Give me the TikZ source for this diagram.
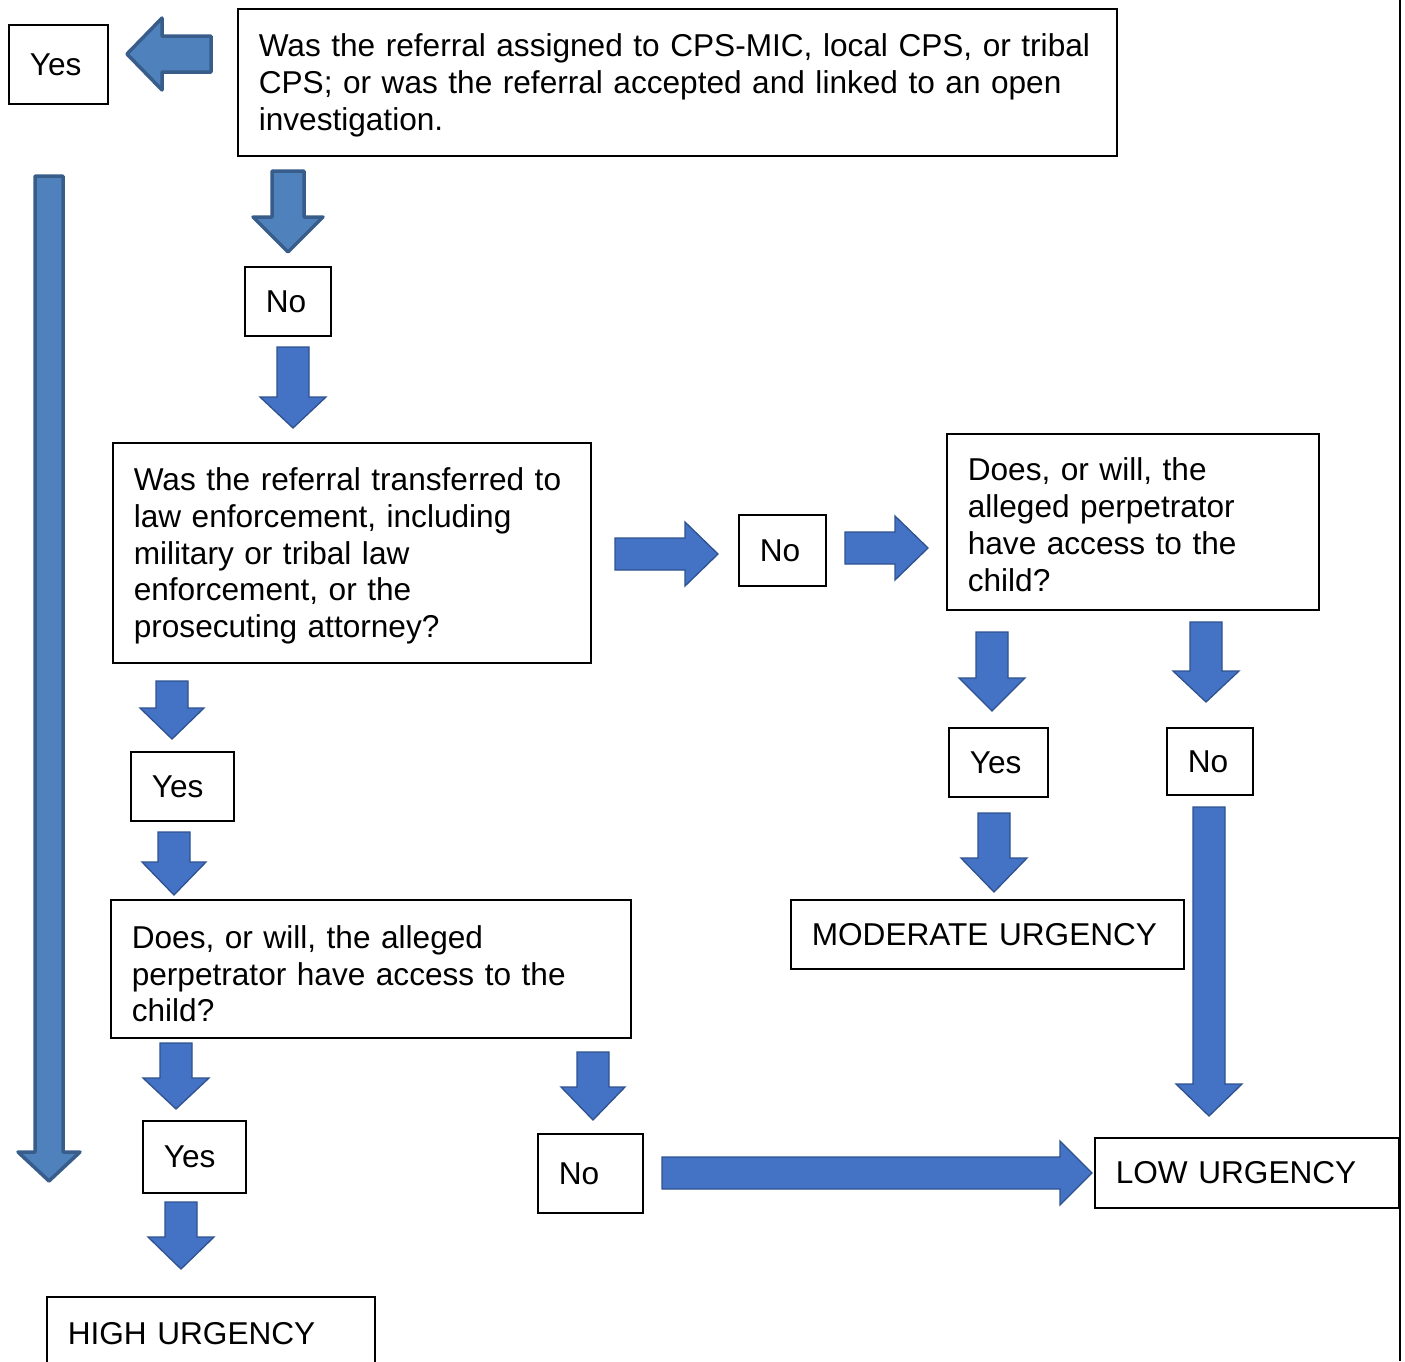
\documentclass[tikz,border=0pt]{standalone}
\usepackage{fontspec}
\setmainfont{Liberation Sans}
\definecolor{lightfill}{HTML}{4F81BD}
\definecolor{lightedge}{HTML}{385D8A}
\definecolor{darkfill}{HTML}{4472C4}
\definecolor{darkedge}{HTML}{2F528F}
\newcommand\varrow[7]{% style, cx, ytop, ybase, ytip, bodyhalf, headhalf
  \draw[#1] ({#2-#6},#3) -- ({#2+#6},#3) -- ({#2+#6},#4) -- ({#2+#7},#4) -- (#2,#5) -- ({#2-#7},#4) -- ({#2-#6},#4) -- cycle;}
\newcommand\harrow[7]{% style, cy, xtail, xbase, xtip, bodyhalf, headhalf
  \draw[#1] (#3,{#2-#6}) -- (#4,{#2-#6}) -- (#4,{#2-#7}) -- (#5,#2) -- (#4,{#2+#7}) -- (#4,{#2+#6}) -- (#3,{#2+#6}) -- cycle;}
\newcommand\myline[1]{\mbox{#1}}
\newcommand\mydrop[1]{\rule{0pt}{#1pt}}
\begin{document}
\begin{tikzpicture}[x=1pt,y=-1pt,
  every node/.style={font=\fontsize{31.6}{36.8}\selectfont},
  tbox/.style={draw=black, line width=1.6pt, anchor=north west, inner ysep=0pt, inner xsep=21pt, fill=white, align=left},
  lightarr/.style={fill=lightfill, draw=lightedge, line width=3.5pt, line join=round},
  darkarr/.style={fill=darkfill, draw=darkedge, line width=1.3pt, line join=miter}]
\useasboundingbox (0,0) rectangle (1405,1361);
\fill[white] (0,0) rectangle (1405,1361);

% boxes
\node[tbox, minimum width=99pt, minimum height=79pt, text width=57pt] (yes1) at (8,24) {\myline{Yes}};
\node[tbox, minimum width=879pt, minimum height=147pt, text width=837pt] (q1) at (237,8)
  {\mydrop{29}\myline{Was the referral assigned to CPS-MIC, local CPS, or tribal}\\\myline{CPS; or was the referral accepted and linked to an open}\\\myline{investigation.}};
\node[tbox, minimum width=86pt, minimum height=69pt, text width=44pt] (no1) at (244,266) {\myline{No}};
\node[tbox, minimum width=478pt, minimum height=220pt, text width=436pt] (q2) at (112,442)
  {\mydrop{29}\myline{Was the referral transferred to}\\\myline{law enforcement, including}\\\myline{military or tribal law}\\\myline{enforcement, or the}\\\myline{prosecuting attorney?}};
\node[tbox, minimum width=87pt, minimum height=71pt, text width=45pt] (no2) at (738,514) {\myline{No}};
\node[tbox, minimum width=372pt, minimum height=176pt, text width=330pt] (q3) at (946,433)
  {\mydrop{29}\myline{Does, or will, the}\\\myline{alleged perpetrator}\\\myline{have access to the}\\\myline{child?}};
\node[tbox, minimum width=99pt, minimum height=69pt, text width=57pt] (yes3) at (948,727) {\myline{Yes}};
\node[tbox, minimum width=86pt, minimum height=67pt, text width=44pt] (no3) at (1166,727) {\myline{No}};
\node[tbox, minimum width=393pt, minimum height=69pt, text width=351pt] (mod) at (790,899) {\myline{MODERATE URGENCY}};
\node[tbox, minimum width=103pt, minimum height=69pt, text width=61pt] (yes2) at (130,751) {\myline{Yes}};
\node[tbox, minimum width=520pt, minimum height=138pt, text width=478pt] (q4) at (110,899)
  {\mydrop{33}\myline{Does, or will, the alleged}\\\myline{perpetrator have access to the}\\\myline{child?}};
\node[tbox, minimum width=103pt, minimum height=72pt, text width=61pt] (yes4) at (142,1120) {\myline{Yes}};
\node[tbox, minimum width=105pt, minimum height=79pt, text width=63pt] (no4) at (537,1133) {\myline{No}};
\node[tbox, minimum width=304pt, minimum height=70pt, text width=262pt] (low) at (1094,1137) {\myline{LOW URGENCY}};
\node[tbox, minimum width=328pt, minimum height=74pt, text width=286pt] (high) at (46,1296) {\myline{HIGH URGENCY}};

% block arrows
\harrow{lightarr}{54}{211}{162}{127}{18}{36}
\varrow{lightarr}{288}{171}{217}{252}{16}{35}
\varrow{lightarr}{49}{176}{1152}{1181}{14}{31}
\varrow{darkarr}{293}{347}{397}{428}{16}{33}
\varrow{darkarr}{172}{681}{708}{739}{16}{32}
\varrow{darkarr}{174}{832}{862}{895}{16}{32}
\varrow{darkarr}{176}{1043}{1078}{1109}{16}{33}
\varrow{darkarr}{181}{1202}{1237}{1269}{16}{33}
\varrow{darkarr}{593}{1052}{1087}{1120}{16}{32}
\varrow{darkarr}{992}{632}{678}{711}{16}{33}
\varrow{darkarr}{1206}{622}{671}{702}{16}{33}
\varrow{darkarr}{994}{813}{858}{892}{16}{33}
\varrow{darkarr}{1209}{807}{1084}{1116}{16}{33}
\harrow{darkarr}{554}{615}{685}{718}{16}{32}
\harrow{darkarr}{548}{845}{895}{928}{16}{32}
\harrow{darkarr}{1173}{662}{1060}{1092}{16}{32}

% right page edge
\draw[line width=2pt] (1400,0) -- (1400,1361);
\end{tikzpicture}
\end{document}
